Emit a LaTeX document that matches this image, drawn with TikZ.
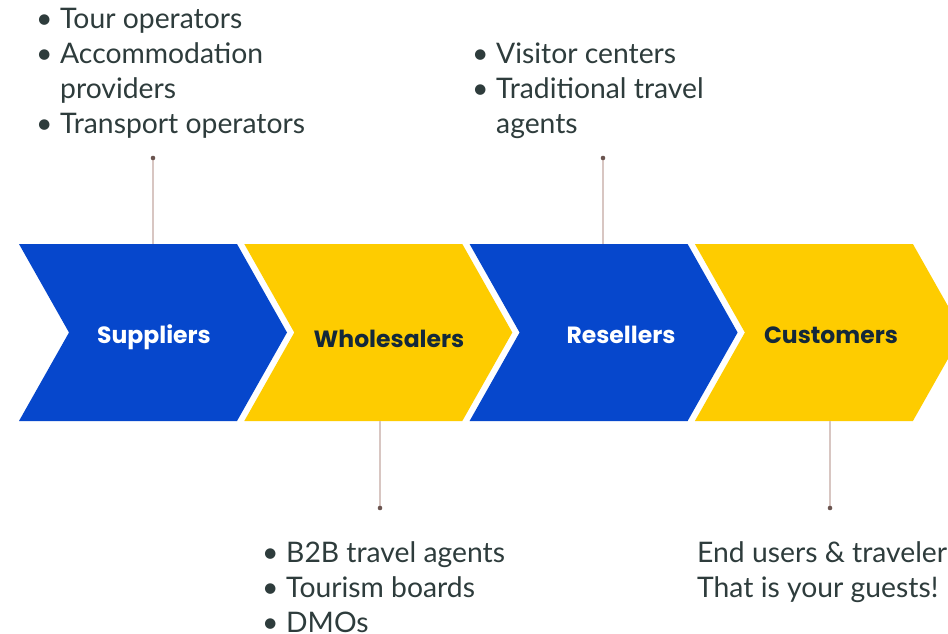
\documentclass[tikz,border=0pt]{standalone}
\usepackage{fontspec}
\setmainfont{Lato}
\newfontfamily\chevfont{Poppins}
\definecolor{chblue}{HTML}{0647CC}
\definecolor{chyellow}{HTML}{FECC00}
\definecolor{labeldark}{HTML}{13283A}
\definecolor{bodytext}{HTML}{2E3C3C}
\definecolor{connline}{HTML}{D8C6C2}
\definecolor{conndot}{HTML}{6B5550}
\newcommand{\bitem}[1]{\makebox[24pt][l]{•}#1}
\newcommand{\cont}[1]{\hspace*{24pt}#1}
\begin{document}
\begin{tikzpicture}[x=1pt,y=-1pt,
  chevlab/.style={inner sep=0pt, anchor=base, font=\chevfont\bfseries\fontsize{23.5}{28}\selectfont},
  listtext/.style={inner sep=0pt, anchor=base west, align=left, text=bodytext,
    font=\fontsize{28.3}{35}\selectfont},
  connector/.style={draw=connline, line width=1.8pt},
  enddot/.style={fill=conndot}]
\useasboundingbox (0,0) rectangle (948,634);
\clip (0,0) rectangle (948,634);
\fill[white] (0,0) rectangle (948,634);
% chevrons
\foreach \i/\col in {0/chblue,1/chyellow,2/chblue,3/chyellow}{
  \pgfmathsetmacro\L{19+225.3*\i}
  \fill[\col] (\L,244) -- ++(218,0) -- ++(50,88.5) -- ++(-50,88.5) -- ++(-218,0) -- ++(50,-88.5) -- cycle;
}
% labels
\node[chevlab, text=white] (sup) at (154,343) {Suppliers};
\node[chevlab, text=labeldark] (who) at (389,347) {Wholesalers};
\node[chevlab, text=white] (res) at (621,343) {Resellers};
\node[chevlab, text=labeldark] (cus) at (831,343) {Customers};
% connectors
\coordinate (s1) at (153,244); \coordinate (e1) at (153,158);
\coordinate (s2) at (380,421); \coordinate (e2) at (380,508);
\coordinate (s3) at (603,244); \coordinate (e3) at (603,158);
\coordinate (s4) at (830,421); \coordinate (e4) at (830,508);
\foreach \k in {1,2,3,4}{
  \draw[connector] (s\k) -- (e\k);
  \fill[enddot] (e\k) circle (2.3);
}
% lists (base anchor = baseline of the last line)
\node[listtext] (list1) at (36,133) {\bitem{Tour operators}\\ \bitem{Accommodation}\\ \cont{providers}\\ \bitem{Transport operators}};
\node[listtext] (list3) at (472,133) {\bitem{Visitor centers}\\ \bitem{Traditional travel}\\ \cont{agents}};
\node[listtext] (list2) at (262,632) {\bitem{B2B travel agents}\\ \bitem{Tourism boards}\\ \bitem{DMOs}};
\node[listtext] (list4) at (697,597) {End users \& travelers\\ That is your guests!};
\end{tikzpicture}
\end{document}
